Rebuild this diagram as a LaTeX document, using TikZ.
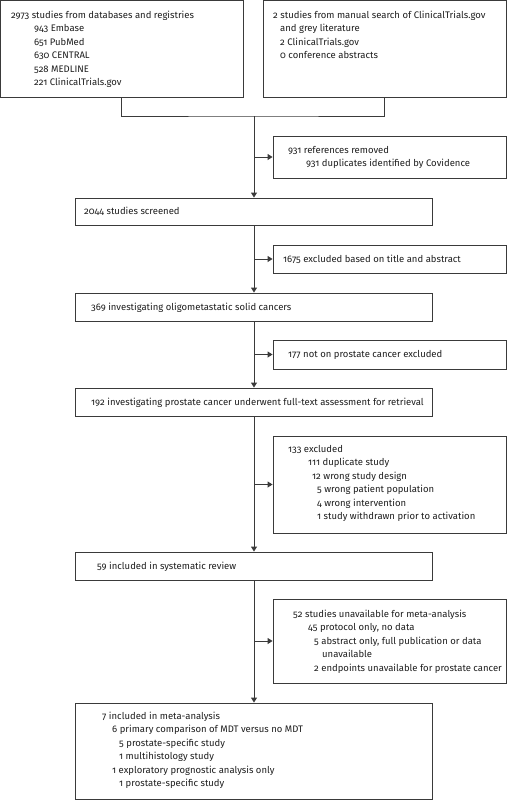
\documentclass[tikz,border=0pt]{standalone}
\usepackage{fontspec}
\setmainfont{Fira Sans}[Numbers=OldStyle]
\usetikzlibrary{arrows.meta}
\definecolor{lc}{HTML}{3A3A3A}
\definecolor{tc}{HTML}{1E1E1E}
\newcommand{\lines}[1]{\fontsize{9.5}{13.4}\selectfont\begin{tabular}[t]{@{}l@{}}#1\end{tabular}}
\begin{document}
\begin{tikzpicture}[x=1pt,y=-1pt,
  box/.style={draw=lc, line width=0.9pt, rectangle, inner sep=0pt},
  txt/.style={anchor=base west, inner sep=0pt, font=\fontsize{9.5}{13.4}\selectfont, text=tc},
  flow/.style={draw=lc, line width=0.9pt},
  arr/.style={flow, -{Triangle[length=5pt,width=6pt]}}]
\useasboundingbox (0,0) rectangle (507,800);
% boxes
\node[box, minimum width=242.5pt, minimum height=96.5pt] (A) at (121.75,48.75) {};
\node[box, minimum width=243.5pt, minimum height=96.5pt] (B) at (384.75,48.75) {};
\node[box, minimum width=233.5pt, minimum height=42pt] (C) at (389.75,157) {};
\node[box, minimum width=357pt, minimum height=27pt] (D) at (253.5,211.5) {};
\node[box, minimum width=233.5pt, minimum height=28pt] (E) at (389.75,259) {};
\node[box, minimum width=357pt, minimum height=28pt] (F) at (253.5,307) {};
\node[box, minimum width=233.5pt, minimum height=29pt] (G) at (389.75,354.5) {};
\node[box, minimum width=357pt, minimum height=28pt] (H) at (253.5,402) {};
\node[box, minimum width=233.5pt, minimum height=97pt] (I) at (389.75,484.5) {};
\node[box, minimum width=357pt, minimum height=28pt] (J) at (253.5,566) {};
\node[box, minimum width=233.5pt, minimum height=84pt] (K) at (389.75,641) {};
\node[box, minimum width=357pt, minimum height=96.5pt] (L) at (253.5,751.25) {};
% texts
\node[txt] (tA) at (11,18.5) {\lines{2973 studies from databases and registries\\
\hspace*{23pt}943 Embase\\
\hspace*{23pt}651 PubMed\\
\hspace*{23pt}630 CENTRAL\\
\hspace*{23pt}528 MEDLINE\\
\hspace*{23pt}221 ClinicalTrials.gov}};
\node[txt] (tB) at (273,18.5) {\lines{2 studies from manual search of ClinicalTrials.gov\\
\hspace*{7pt}and grey literature\\
\hspace*{7pt}2 ClinicalTrials.gov\\
\hspace*{7pt}0 conference abstracts}};
\node[txt] (tC) at (288,153.5) {\lines{931 references removed\\
\hspace*{18pt}931 duplicates identified by Covidence}};
\node[txt] (tD) at (84,214.5) {2044 studies screened};
\node[txt] (tE) at (283,262.5) {1675 excluded based on title and abstract};
\node[txt] (tF) at (91,310.5) {369 investigating oligometastatic solid cancers};
\node[txt] (tG) at (288,357.5) {177 not on prostate cancer excluded};
\node[txt] (tH) at (91,405.5) {192 investigating prostate cancer underwent full-text assessment for retrieval};
\node[txt] (tI) at (288,452.5) {\lines{133 excluded\\
\hspace*{20pt}111 duplicate study\\
\hspace*{24pt}12 wrong study design\\
\hspace*{29pt}5 wrong patient population\\
\hspace*{29pt}4 wrong intervention\\
\hspace*{29pt}1 study withdrawn prior to activation}};
\node[txt] (tJ) at (97,569.5) {59 included in systematic review};
\node[txt] (tK) at (293,617.5) {\lines{52 studies unavailable for meta-analysis\\
\hspace*{15pt}45 protocol only, no data\\
\hspace*{21pt}5 abstract only, full publication or data\\
\hspace*{29pt}unavailable\\
\hspace*{21pt}2 endpoints unavailable for prostate cancer}};
\node[txt] (tL) at (102,719.5) {\lines{7 included in meta-analysis\\
\hspace*{10pt}6 primary comparison of MDT versus no MDT\\
\hspace*{17pt}5 prostate-specific study\\
\hspace*{17pt}1 multihistology study\\
\hspace*{10pt}1 exploratory prognostic analysis only\\
\hspace*{17pt}1 prostate-specific study}};
% connectors
\coordinate (j) at (254,116);
\draw[flow] (A.south) |- (j) -| (B.south);
\draw[arr] (j) -- (j |- D.north);
\draw[arr] (j |- C.west) -- (C.west);
\draw[arr] (j |- D.south) -- (j |- F.north);
\draw[arr] (j |- E.west) -- (E.west);
\draw[arr] (j |- F.south) -- (j |- H.north);
\draw[arr] (j |- G.west) -- (G.west);
\draw[arr] (j |- H.south) -- (j |- J.north);
\draw[arr] (j |- I.west) -- (I.west);
\draw[arr] (j |- J.south) -- (j |- L.north);
\draw[arr] (j |- K.west) -- (K.west);
\end{tikzpicture}
\end{document}
